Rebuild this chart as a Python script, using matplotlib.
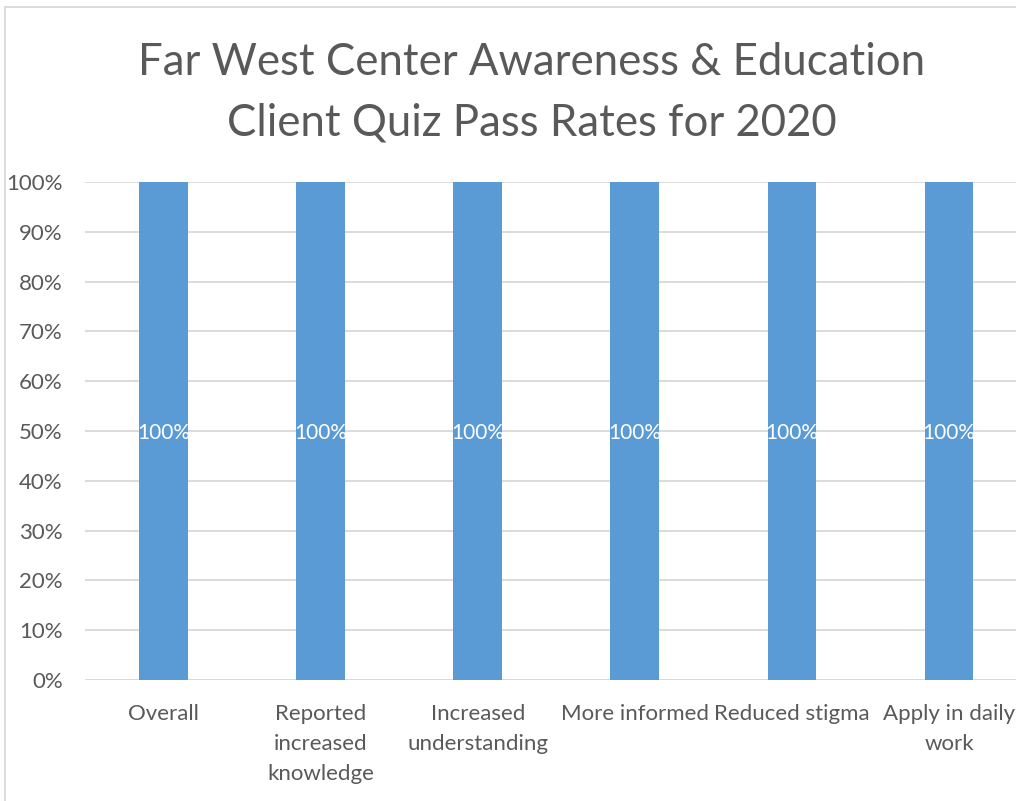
import matplotlib
matplotlib.use("Agg")
import matplotlib.pyplot as plt
from matplotlib.lines import Line2D
from matplotlib.ticker import FuncFormatter

categories = ["Overall", "Reported\nincreased\nknowledge", "Increased\nunderstanding",
              "More informed", "Reduced stigma", "Apply in daily\nwork"]
values = [1.0, 1.0, 1.0, 1.0, 1.0, 1.0]
yticks = [0, 0.1, 0.2, 0.3, 0.4, 0.5, 0.6, 0.7, 0.8, 0.9, 1.0]
title = "Far West Center Awareness & Education\nClient Quiz Pass Rates for 2020"

plt.rcParams['font.family'] = ['Lato', 'DejaVu Sans']
W, H = 1016, 801
fig = plt.figure(figsize=(W/100, H/100), dpi=100)
txt = '#595959'
ax = fig.add_axes([85/W, 1-680/H, (1027.5-85)/W, (680-182)/H])
x = range(len(categories))
bars = ax.bar(x, values, width=0.31, color='#5B9BD5', zorder=3)
for b, v in zip(bars, values):
    ax.text(b.get_x()+b.get_width()/2, v/2 - 0.005, f"{v:.0%}", ha='center', va='center',
            color='white', fontsize=15, zorder=4)
ax.set_xlim(-0.5, len(categories)-0.5)
ax.set_ylim(0, 1.0)
ax.set_yticks(yticks)
ax.yaxis.set_major_formatter(FuncFormatter(lambda v, p: f"{v:.0%}"))
ax.set_xticks(list(x))
ax.set_xticklabels(categories, linespacing=1.65)
ax.tick_params(axis='both', length=0, labelsize=16, labelcolor=txt)
ax.tick_params(axis='x', pad=17)
ax.tick_params(axis='y', pad=16)
ax.grid(axis='y', color='#D9D9D9', linewidth=1.3, zorder=0)
for s in ax.spines.values():
    s.set_visible(False)
ax.axhline(0, color='#D9D9D9', linewidth=1.3, zorder=2)
fig.text(532/W, 1-93/H, title, ha='center', va='center', fontsize=31.5, color=txt,
         linespacing=1.59)
fig.add_artist(Line2D([5/W, 5/W], [0, 1-7/H], transform=fig.transFigure, color='#D9D9D9', lw=1.3))
fig.add_artist(Line2D([5/W, 1], [1-7/H, 1-7/H], transform=fig.transFigure, color='#D9D9D9', lw=1.3))
fig.savefig("out.png", dpi=100)
